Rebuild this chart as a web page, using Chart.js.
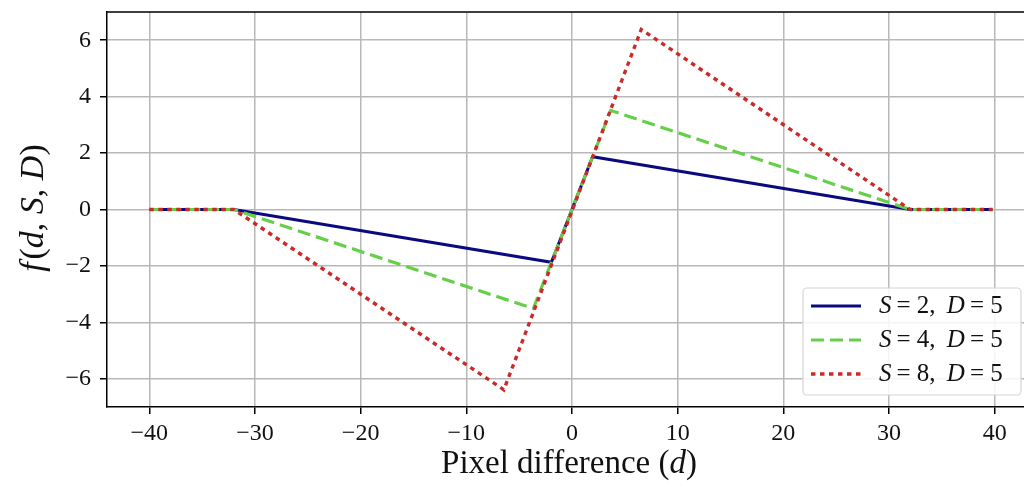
<!DOCTYPE html>
<html>
<head>
<meta charset="utf-8">
<script src="https://cdn.jsdelivr.net/npm/chart.js@4.4.0/dist/chart.umd.min.js"></script>
<style>
  html, body { margin: 0; padding: 0; background: #fff; overflow: hidden; }
  #wrap { width: 1045px; height: 487px; }
</style>
</head>
<body>
<div id="wrap"><canvas id="plot" width="1045" height="487"></canvas></div>
<script>
// data
const dS2 = [-40, -32, -1.95, 1.95, 32, 39.8];
const fS2 = [0, 0, -1.87, 1.87, 0, 0];
const dS4 = [-40, -32, -3.66, 3.66, 32, 39.8];
const fS4 = [0, 0, -3.51, 3.51, 0, 0];
const dS8 = [-40, -32, -6.45, 6.55, 32, 39.8];
const fS8 = [0, 0, -6.39, 6.38, 0, 0];

const seriesNames = [["2", "5"], ["4", "5"], ["8", "5"]];
const xTicks = [-40, -30, -20, -10, 0, 10, 20, 30, 40];
const yTicks = [-6, -4, -2, 0, 2, 4, 6];

const SERIF = "'Liberation Serif', 'DejaVu Serif', serif";

function pts(xs, ys) {
  return xs.map((x, i) => ({ x: x, y: ys[i] }));
}
function minus(v) {
  return v < 0 ? "\u2212" + Math.abs(v) : String(v);
}

// draws text made of upright / italic pieces
function richText(ctx, parts, x, y, size, align) {
  let w = 0;
  parts.forEach(p => {
    ctx.font = (p[1] ? "italic " : "") + size + "px " + SERIF;
    w += ctx.measureText(p[0]).width;
  });
  let cx = align === "center" ? x - w / 2 : x;
  ctx.textAlign = "left";
  ctx.textBaseline = "middle";
  parts.forEach(p => {
    ctx.font = (p[1] ? "italic " : "") + size + "px " + SERIF;
    ctx.fillText(p[0], cx, y);
    cx += ctx.measureText(p[0]).width;
  });
}

const extras = {
  id: "extras",
  afterDraw(chart) {
    const ctx = chart.ctx;
    const a = chart.chartArea;
    ctx.save();
    // top and right spines
    ctx.strokeStyle = "#000";
    ctx.lineWidth = 1.5;
    ctx.beginPath();
    ctx.moveTo(a.left, a.top);
    ctx.lineTo(a.right, a.top);
    ctx.lineTo(a.right, a.bottom);
    ctx.stroke();

    // axis titles
    ctx.fillStyle = "#111";
    richText(ctx, [["Pixel difference ", false], ["(", false], ["d", true], [")", false]],
      569, 464, 33, "center");
    ctx.save();
    ctx.translate(34, 208);
    ctx.rotate(-Math.PI / 2);
    richText(ctx, [["f", true], ["\u200a(", false], ["d", true], [", ", false],
      ["S", true], [", ", false], ["D", true], [")", false]], 0, 0, 34, "center");
    ctx.restore();

    // legend
    const bx = 803, by = 288, bw = 218, bh = 107;
    ctx.fillStyle = "rgba(255,255,255,0.85)";
    ctx.strokeStyle = "#d6d6d6";
    ctx.lineWidth = 1.2;
    ctx.beginPath();
    ctx.roundRect(bx, by, bw, bh, 4);
    ctx.fill();
    ctx.stroke();
    chart.data.datasets.forEach((ds, i) => {
      const ry = 306 + i * 34;
      ctx.strokeStyle = ds.borderColor;
      ctx.lineWidth = ds.borderWidth;
      ctx.setLineDash(ds.borderDash || []);
      ctx.beginPath();
      ctx.moveTo(811, ry);
      ctx.lineTo(861, ry);
      ctx.stroke();
      ctx.setLineDash([]);
      ctx.fillStyle = "#111";
      const n = seriesNames[i];
      richText(ctx, [["S", true], ["\u2009= " + n[0] + ", \u2009", false], ["D", true], ["\u2009= " + n[1], false]],
        879, ry, 25, "left");
    });
    ctx.restore();
  }
};

new Chart(document.getElementById("plot"), {
  type: "line",
  data: {
    datasets: [
      { label: "S = 2, D = 5", data: pts(dS2, fS2), borderColor: "#0a0a80", borderWidth: 3, order: 2 },
      { label: "S = 4, D = 5", data: pts(dS4, fS4), borderColor: "#66cf4a", borderWidth: 3.2, borderDash: [13, 6], order: 1 },
      { label: "S = 8, D = 5", data: pts(dS8, fS8), borderColor: "#cc2a2a", borderWidth: 3.4, borderDash: [4.5, 4.5], order: 0 }
    ]
  },
  options: {
    responsive: false,
    animation: false,
    events: [],
    elements: { point: { radius: 0 }, line: { tension: 0, fill: false } },
    layout: { padding: { left: 0, top: 12, right: 8, bottom: 0 } },
    plugins: { legend: { display: false }, tooltip: { enabled: false } },
    scales: {
      x: {
        type: "linear",
        min: -44,
        max: 44,
        afterBuildTicks: s => { s.ticks = xTicks.map(v => ({ value: v })); },
        afterFit: s => { s.height = 80; s.paddingLeft = 0; s.paddingRight = 0; },
        grid: { color: "#b8b8b8", lineWidth: 1.5, tickColor: "#000", tickLength: 7 },
        border: { color: "#000", width: 1.5 },
        ticks: {
          color: "#111",
          padding: 5,
          font: { family: SERIF, size: 24 },
          callback: v => minus(v)
        }
      },
      y: {
        type: "linear",
        min: -7,
        max: 7,
        afterBuildTicks: s => { s.ticks = yTicks.map(v => ({ value: v })); },
        afterFit: s => { s.width = 107; s.paddingTop = 0; s.paddingBottom = 0; },
        grid: { color: "#b8b8b8", lineWidth: 1.5, tickColor: "#000", tickLength: 7 },
        border: { color: "#000", width: 1.5 },
        ticks: {
          color: "#111",
          padding: 9,
          font: { family: SERIF, size: 24 },
          callback: v => minus(v)
        }
      }
    }
  },
  plugins: [extras]
});
</script>
</body>
</html>
